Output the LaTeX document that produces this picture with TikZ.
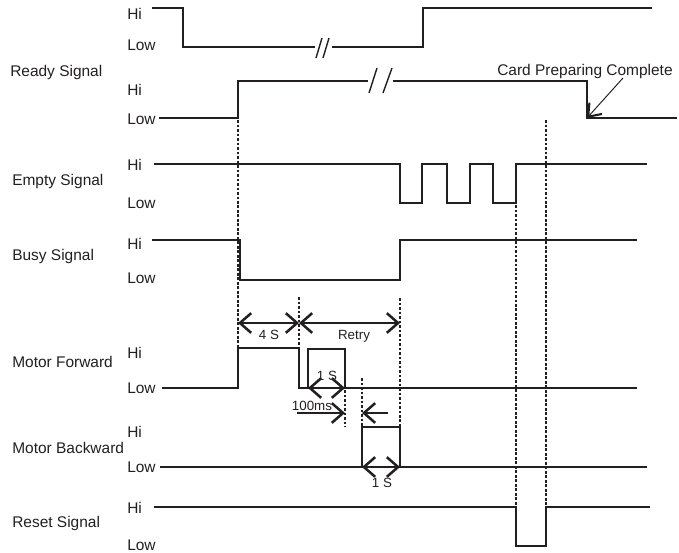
\documentclass[tikz,border=0pt]{standalone}
\usepackage{fontspec}
\setmainfont{Liberation Sans}
\usetikzlibrary{positioning, arrows.meta}
\definecolor{ink}{HTML}{231F20}

\begin{document}
\begin{tikzpicture}[
  x=0.025cm, y=-0.025cm,
  % ---- Style definitions ----
  sig/.style={draw=ink, line width=1pt, line join=miter},
  brk/.style={draw=ink, line width=1pt},
  guide/.style={draw=ink, line width=1pt, dash pattern=on 2pt off 1.2pt},
  barb/.tip={Straight Barb[length=8pt, width=14pt, line width=1.8pt]},
  dimarr/.style={{barb}-{barb}, draw=ink, line width=0.9pt},
  onearr/.style={-{barb}, draw=ink, line width=0.9pt},
  notearr/.style={
    -{Straight Barb[length=8pt, width=12pt, line width=1.5pt]},
    draw=ink, line width=0.7pt
  },
  signame/.style={anchor=base west, inner sep=0pt, text=ink,
    font=\fontsize{11}{13}\selectfont},
  lvl/.style={anchor=base west, inner sep=0pt, text=ink,
    font=\fontsize{11}{13}\selectfont},
  lbl/.style={anchor=base, inner sep=0pt, text=ink,
    font=\fontsize{9.5}{11}\selectfont},
]
\useasboundingbox (0,0) rectangle (679,553);

% ---- Signal names ----
\node[signame] (ready) at (10,76) {Ready Signal};
\node[signame] (empty) at (12,185) {Empty Signal};
\node[signame] (busy) at (12,260) {Busy Signal};
\node[signame] (mfwd) at (12,367) {Motor Forward};
\node[signame] (mbwd) at (12,453) {Motor Backward};
\node[signame] (reset) at (12,527) {Reset Signal};

% ---- Hi / Low levels ----
\node[lvl] (hi1) at (127,19.5) {Hi};
\node[lvl] (lo1) at (127,50) {Low};
\node[lvl] (hi2) at (127,95) {Hi};
\node[lvl] (lo2) at (127,124) {Low};
\node[lvl] (hi3) at (127,170) {Hi};
\node[lvl] (lo3) at (127,208) {Low};
\node[lvl] (hi4) at (127,249) {Hi};
\node[lvl] (lo4) at (127,283) {Low};
\node[lvl] (hi5) at (127,358) {Hi};
\node[lvl] (lo5) at (127,393) {Low};
\node[lvl] (hi6) at (127,437) {Hi};
\node[lvl] (lo6) at (127,472) {Low};
\node[lvl] (hi7) at (127,513) {Hi};
\node[lvl] (lo7) at (127,550) {Low};

% ---- Waveforms ----
% ready (upper)
\draw[sig] (152,8) -| (183,47) -- (315,47);
\draw[sig] (332,47) -- (423,47) |- (652,8);
\draw[brk] (316,58) -- (322,38) (323,58) -- (329,38);
% ready (lower)
\draw[sig] (159,118) -| (238,81) -- (368,81);
\draw[sig] (393,81) -| (587,118) -- (677,118);
\draw[brk] (369,93) -- (377,68) (383,93) -- (392,68);
% empty
\draw[sig] (154,164) -| (400,203) -| (422,164) -| (447,203) -| (470,164)
  -| (493,203) -| (516,164) -- (647,164);
% busy
\draw[sig] (152,240) -| (240,280) -| (400,240) -- (637,240);
% motor forward
\draw[sig] (162,388) -| (238,348) -| (299,388) -| (308,349) -| (345,388) -- (637,388);
% motor backward
\draw[sig] (160,467) -| (362,427) -| (400,467) -- (647,467);
% reset
\draw[sig] (154,507) -| (516,546) -| (546,507) -- (650,507);

% ---- Timing guides ----
\draw[guide] (238,120) -- (238,348);
\draw[guide] (299,297) -- (299,348);
\draw[guide] (400,298) -- (400,427);
\draw[guide] (345,390) -- (345,427);
\draw[guide] (362,378) -- (362,427);
\draw[guide] (516,205) -- (516,507);
\draw[guide] (546,120) -- (546,507);

% ---- Dimension points ----
\coordinate (d4a) at (238,323);
\coordinate (d4b) at (299,323);
\coordinate (dr) at (400,323);
\coordinate (s1a) at (308,388);
\coordinate (s1b) at (345,388);
\coordinate (m100a) at (297,413);
\coordinate (m100b) at (345,413);
\coordinate (backa) at (388,413);
\coordinate (backb) at (362,413);
\coordinate (s2a) at (362,467);
\coordinate (s2b) at (400,467);
\coordinate (cpcend) at (587,118);

\draw[dimarr] (d4a) -- (d4b);
\draw[dimarr] (d4b) -- (dr);
\draw[dimarr] (s1a) -- (s1b);
\draw[onearr] (m100a) -- (m100b);
\draw[onearr] (backa) -- (backb);
\draw[dimarr] (s2a) -- (s2b);

\node[lbl] (t4s) at (269,339) {4 S};
\node[lbl] (tretry) at (354,339) {Retry};
\node[lbl] (t1sa) at (327,380) {1 S};
\node[lbl] (t100) at (312,410) {100ms};
\node[lbl] (t1sb) at (382,487) {1 S};

% ---- Note ----
\node[signame] (cpc) at (497,75) {Card Preparing Complete};
\draw[notearr] (623,78) -- (cpcend);

\end{tikzpicture}
\end{document}
